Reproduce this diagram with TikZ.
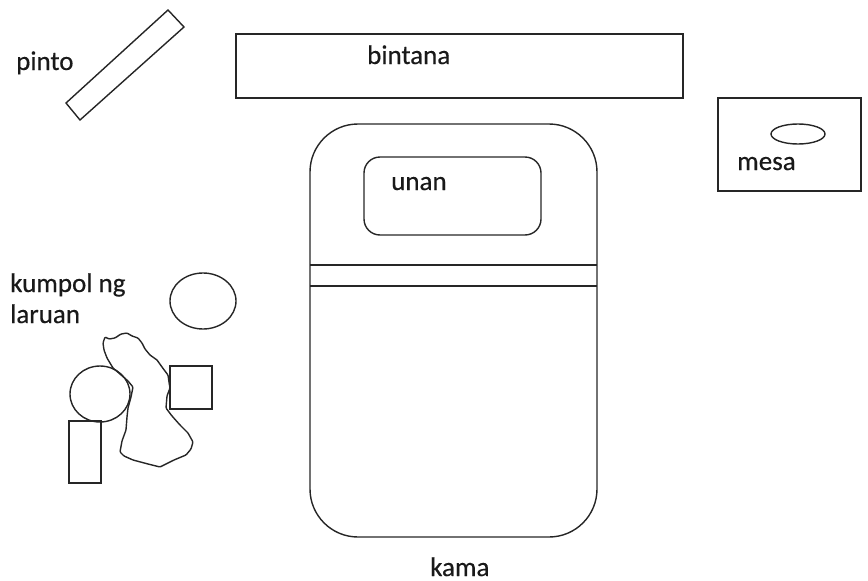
\documentclass[tikz,border=0pt]{standalone}
\usepackage{fontspec}
\setmainfont[FakeBold=0.4]{Carlito}
\tikzset{
  shp/.style={draw=black!85,line width=1.4pt},
  lbl/.style={font=\fontsize{27}{30}\selectfont,text=black!90,inner sep=0pt,anchor=base west}
}
\begin{document}
\begin{tikzpicture}[x=1pt,y=-1pt]
\useasboundingbox (0,0) rectangle (868,581);
\draw[shp] (66,103) -- (168,10) -- (184,27) -- (80,120) -- cycle;
\draw[shp] (236,34) rectangle (683,98);
\draw[shp] (718,98) rectangle (861,191);
\draw[shp] (798,134) ellipse (27 and 10);
\draw[shp,rounded corners=48pt] (310,124) rectangle (597,537);
\draw[shp] (310,265) -- (597,265) (310,286) -- (597,286);
\draw[shp,rounded corners=16pt] (364,157) rectangle (541,235);
\draw[shp] (203,301) ellipse (33 and 28);
\draw[shp] (100,394) ellipse (30 and 28);
\draw[shp] (170,366) rectangle (212,409);
\draw[shp] (69,421) rectangle (101,483);
\draw[shp,rounded corners=1pt] (105,337) -- (109,339) -- (115,338) -- (121,334) -- (127,333) -- (132,336) -- (138,338) -- (142,343) -- (145,349) -- (150,355) -- (157,360) -- (162,367) -- (168,375) -- (169,382) -- (170,388) -- (167,396) -- (166,408) -- (172,416) -- (180,425) -- (188,433) -- (193,442) -- (191,449) -- (186,455) -- (174,460) -- (160,467) -- (148,464) -- (133,460) -- (124,456) -- (120,452) -- (122,441) -- (126,430) -- (127,417) -- (128,408) -- (131,397) -- (133,387) -- (128,381) -- (120,374) -- (113,368) -- (107,358) -- (104,350) -- (103,343) -- cycle;
\node[lbl] (pinto) at (16,70) {pinto};
\node[lbl] (bintana) at (367,64) {bintana};
\node[lbl] (unan) at (391,190) {unan};
\node[lbl] (mesa) at (737,170) {mesa};
\node[lbl] (kumpol) at (10,292) {kumpol ng};
\node[lbl] (laruan) at (10,323) {laruan};
\node[lbl] (kama) at (430,576) {kama};
\end{tikzpicture}
\end{document}
